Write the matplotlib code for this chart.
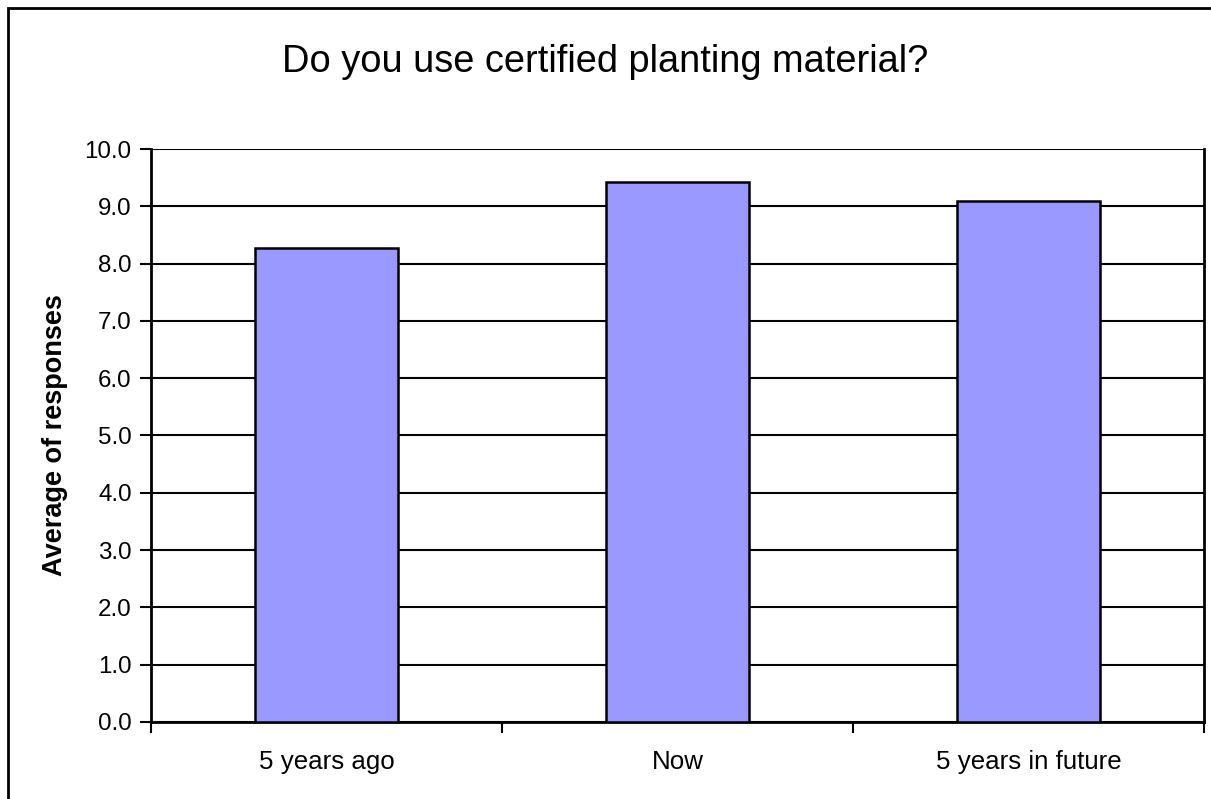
import matplotlib
matplotlib.use("Agg")
from matplotlib import pyplot as plt
from matplotlib.patches import Rectangle
import numpy as np

# Chart data
categories = ["5 years ago", "Now", "5 years in future"]
values = [8.28, 9.42, 9.10]
y_ticks = np.arange(0, 10.01, 1.0)

plt.rcParams['font.family'] = ['Liberation Sans', 'DejaVu Sans']

fig = plt.figure(figsize=(12.11, 7.99), dpi=100)
ax = fig.add_axes([0.1247, 0.0964, 0.9942 - 0.1247, 0.8135 - 0.0964])

# Bars
x = np.arange(len(categories))
ax.bar(x, values, width=0.405, color="#9999ff", edgecolor="black",
       linewidth=1.8, zorder=3)

# Horizontal grid lines
for t in y_ticks:
    ax.axhline(t, color="black", linewidth=1.5, zorder=1)

ax.set_xlim(-0.5, len(categories) - 0.5)
ax.set_ylim(0, 10)
ax.set_yticks(y_ticks)
ax.set_yticklabels([f"{t:.1f}" for t in y_ticks], fontsize=17.4)

# Category ticks at boundaries, labels centred between them
ax.set_xticks(np.arange(-0.5, len(categories), 1.0))
ax.set_xticklabels([])
ax.set_xticks(x, minor=True)
ax.set_xticklabels(categories, minor=True, fontsize=18.6)
ax.tick_params(axis="x", which="minor", length=0, pad=20)
ax.tick_params(axis="x", which="major", direction="out", length=8, width=1.5)
ax.tick_params(axis="y", direction="out", length=8, width=1.5, pad=6)

for side in ["left", "bottom", "right"]:
    ax.spines[side].set_linewidth(2)
ax.spines["top"].set_visible(False)

ax.set_ylabel("Average of responses", fontsize=19.5, fontweight="bold", labelpad=12)

fig.suptitle("Do you use certified planting material?", fontsize=27.4, y=0.945)

# Outer chart border (runs off the right and bottom edges)
fig.patches.append(Rectangle((8 / 1211, -0.1), 1.2, 1 - 8 / 799 + 0.1,
                             transform=fig.transFigure, fill=False,
                             edgecolor="black", linewidth=2))

fig.savefig("out.png", dpi=100)
